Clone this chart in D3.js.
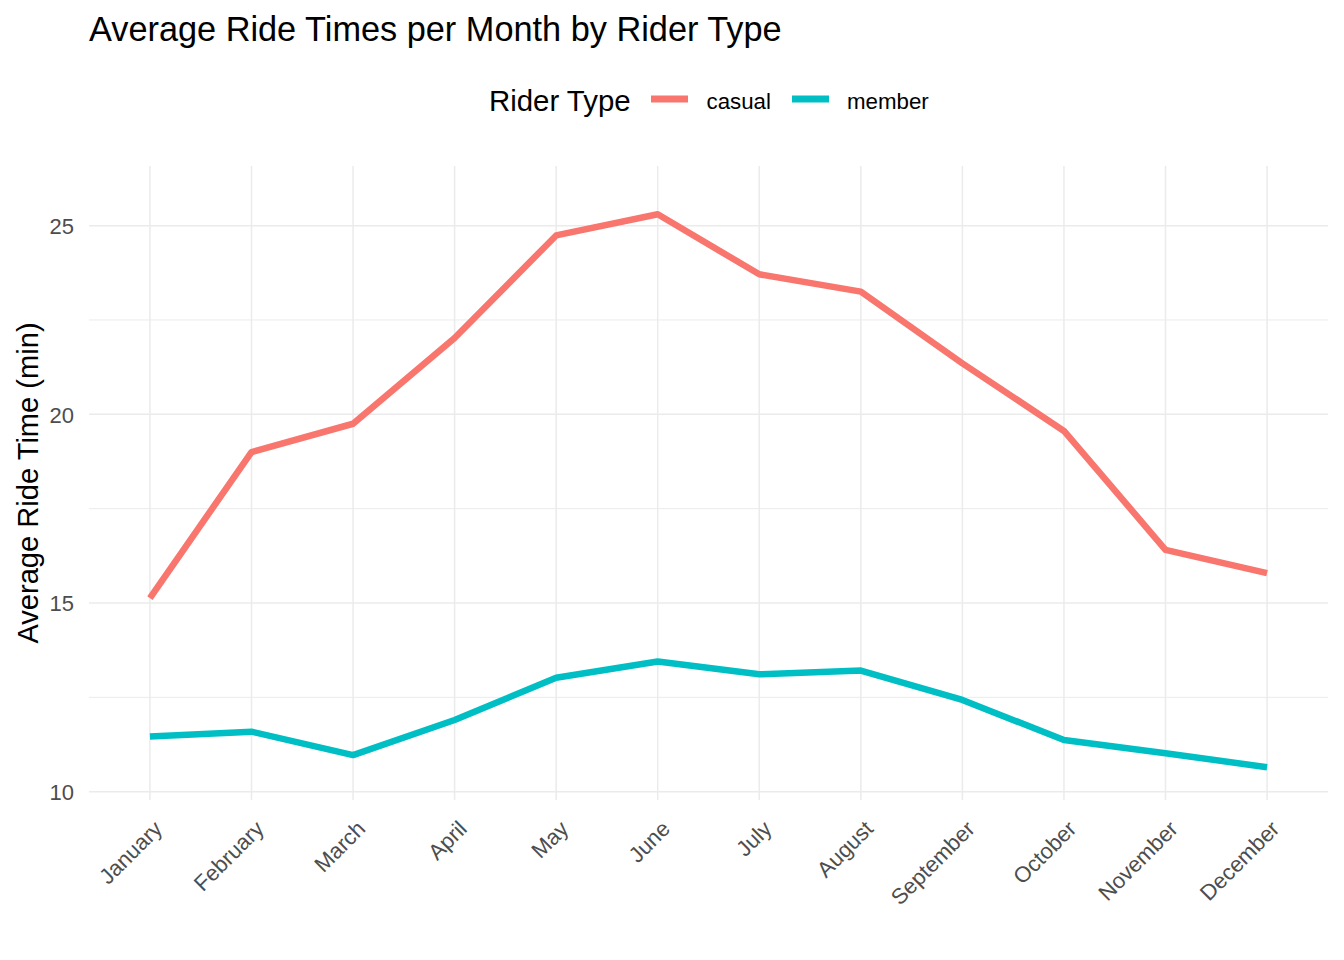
<!DOCTYPE html>
<html>
<head>
<meta charset="utf-8">
<script src="https://cdn.jsdelivr.net/npm/d3@7"></script>
<style>
  html, body { margin: 0; padding: 0; background: #fff; }
  svg { display: block; font-family: "Liberation Sans", Arial, sans-serif; }
</style>
</head>
<body>
<svg id="chart" width="1344" height="960"></svg>
<script>
// ---- data ----
const months = ["January","February","March","April","May","June","July","August","September","October","November","December"];
const riderTypes = ["casual", "member"];
const casualValues = [15.13, 19.00, 19.75, 22.02, 24.74, 25.30, 23.71, 23.25, 21.35, 19.56, 16.41, 15.79];
const memberValues = [11.46, 11.59, 10.97, 11.90, 13.02, 13.45, 13.11, 13.21, 12.43, 11.37, 11.02, 10.65];
const yTicks = [10, 15, 20, 25];
const yMinorTicks = [12.5, 17.5, 22.5];
const colors = ["#F8766D", "#00BFC4"];

const seriesValues = [casualValues, memberValues];

// ---- layout ----
const svg = d3.select("#chart");
const panel = { left: 89, right: 1328, top: 166, bottom: 800 };

const x = d3.scalePoint().domain(months).range([panel.left, panel.right]).padding(0.6);
const y = d3.scaleLinear().domain([9.78, 26.58]).range([panel.bottom, panel.top]);
const color = d3.scaleOrdinal().domain(riderTypes).range(colors);

// grid: minor horizontal
svg.append("g").selectAll("line").data(yMinorTicks).join("line")
  .attr("x1", panel.left).attr("x2", panel.right)
  .attr("y1", d => y(d)).attr("y2", d => y(d))
  .attr("stroke", "#EBEBEB").attr("stroke-width", 1);

// grid: major horizontal
svg.append("g").selectAll("line").data(yTicks).join("line")
  .attr("x1", panel.left).attr("x2", panel.right)
  .attr("y1", d => y(d)).attr("y2", d => y(d))
  .attr("stroke", "#EBEBEB").attr("stroke-width", 1.5);

// grid: major vertical
svg.append("g").selectAll("line").data(months).join("line")
  .attr("x1", d => x(d)).attr("x2", d => x(d))
  .attr("y1", panel.top).attr("y2", panel.bottom)
  .attr("stroke", "#EBEBEB").attr("stroke-width", 1.5);

// y axis labels
const yAxis = d3.axisLeft(y).tickValues(yTicks).tickSize(0).tickPadding(0).tickFormat(d3.format("d"));
const yG = svg.append("g").attr("transform", `translate(${panel.left - 15},0)`).call(yAxis);
yG.select(".domain").remove();
yG.selectAll("text").attr("fill", "#4D4D4D").attr("font-size", 22)
  .attr("font-family", "Liberation Sans, Arial, sans-serif").attr("dy", "0.36em").attr("x", 0);

// x axis labels
const xAxis = d3.axisBottom(x).tickSize(0).tickPadding(0);
const xG = svg.append("g").attr("transform", `translate(2,${panel.bottom + 19})`).call(xAxis);
xG.select(".domain").remove();
xG.selectAll("text")
  .attr("fill", "#4D4D4D").attr("font-size", 22)
  .attr("font-family", "Liberation Sans, Arial, sans-serif")
  .attr("text-anchor", "end")
  .attr("y", 0).attr("dy", "0.72em")
  .attr("transform", "rotate(-45)");

// lines
const line = d3.line().x((d, i) => x(months[i])).y(d => y(d));
svg.append("g").selectAll("path").data(seriesValues).join("path")
  .attr("d", d => line(d))
  .attr("fill", "none")
  .attr("stroke", (d, i) => color(riderTypes[i]))
  .attr("stroke-width", 6.5)
  .attr("stroke-linejoin", "round")
  .attr("stroke-linecap", "butt");

// title
svg.append("text").attr("x", panel.left).attr("y", 40.5)
  .attr("font-size", 34.3).attr("fill", "#000")
  .text("Average Ride Times per Month by Rider Type");

// y axis title
svg.append("text")
  .attr("transform", `translate(37.5,${(panel.top + panel.bottom) / 2}) rotate(-90)`)
  .attr("text-anchor", "middle").attr("font-size", 29.1).attr("fill", "#000")
  .text("Average Ride Time (min)");

// legend
const legend = svg.append("g");
legend.append("text").attr("x", 489).attr("y", 110.5)
  .attr("font-size", 29.4).attr("fill", "#000").text("Rider Type");
const keyX = [651, 792];
const labelX = [706.5, 847];
riderTypes.forEach((t, i) => {
  legend.append("line")
    .attr("x1", keyX[i]).attr("x2", keyX[i] + 37)
    .attr("y1", 99).attr("y2", 99)
    .attr("stroke", color(t)).attr("stroke-width", 7);
  legend.append("text").attr("x", labelX[i]).attr("y", 108.5)
    .attr("font-size", 22.3).attr("fill", "#000").text(t);
});
</script>
</body>
</html>
